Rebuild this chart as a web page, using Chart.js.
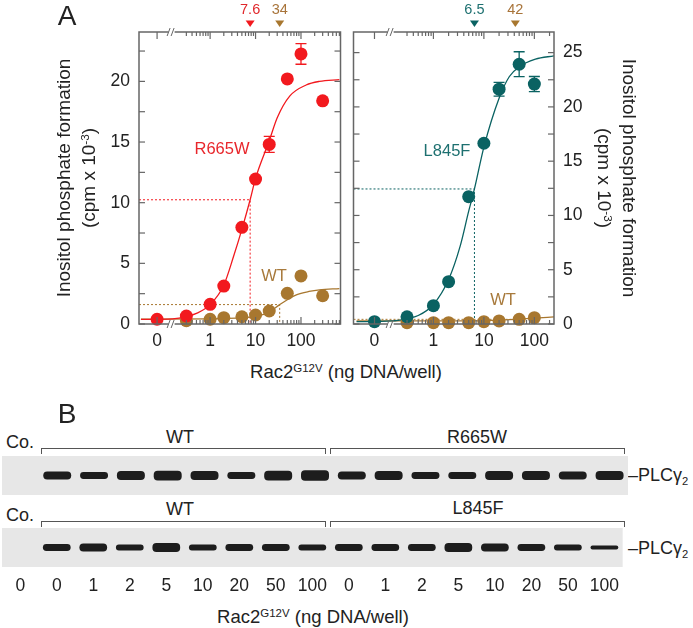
<!DOCTYPE html>
<html>
<head>
<meta charset="utf-8">
<script src="https://cdn.jsdelivr.net/npm/chart.js@4.4.1/dist/chart.umd.min.js"></script>
<style>
  body { margin: 0; background: #fff; }
  #fig { position: relative; width: 693px; height: 628px; overflow: hidden;
         font-family: "Liberation Sans", Arial, sans-serif; color: #222; }
  #fig canvas { position: absolute; }
  .t { position: absolute; white-space: nowrap; line-height: 1; transform: translate(-50%, -50%); }
  .l { position: absolute; white-space: nowrap; line-height: 1; transform: translateY(-50%); }
  .sup { font-size: 0.62em; position: relative; top: -0.55em; }
  .sub { font-size: 0.62em; position: relative; top: 0.35em; }
  .ytitle { position: absolute; width: 320px; height: 50px; text-align: center; font-size: 19px;
            line-height: 25px; white-space: nowrap; }
  .bracket { position: absolute; height: 5px; border: 1px solid #555; border-bottom: none; }
</style>
</head>
<body>
<div id="fig">
  <canvas id="ipLeft" width="347" height="360" style="left:0;top:0"></canvas>
  <canvas id="ipRight" width="346" height="360" style="left:347px;top:0"></canvas>
  <canvas id="blotTop" width="626" height="39" style="left:2px;top:456px"></canvas>
  <canvas id="blotBottom" width="626" height="72" style="left:2px;top:528px"></canvas>

  <div class="t" style="left:67px;top:16px;font-size:28px">A</div>
  <div class="ytitle" style="left:-84px;top:153px;transform:rotate(-90deg)">Inositol phosphate formation<br>(cpm x 10<span class="sup">-3</span>)</div>
  <div class="ytitle" style="left:457px;top:153px;transform:rotate(90deg)">Inositol phosphate formation<br>(cpm x 10<span class="sup">-3</span>)</div>
  <div class="t" style="left:222px;top:148px;font-size:16.5px;color:#e8262b">R665W</div>
  <div class="t" style="left:274px;top:275px;font-size:16.5px;color:#a87a3c">WT</div>
  <div class="t" style="left:447px;top:150px;font-size:16.5px;color:#1d7070">L845F</div>
  <div class="t" style="left:503px;top:299px;font-size:16.5px;color:#a87a3c">WT</div>
  <div class="t" style="left:346px;top:372px;font-size:18.5px">Rac2<span class="sup">G12V</span> (ng DNA/well)</div>

  <div class="t" style="left:67px;top:414px;font-size:28px">B</div>
  <div class="l" style="left:6px;top:442px;font-size:18px">Co.</div>
  <div class="t" style="left:180px;top:437px;font-size:18px">WT</div>
  <div class="t" style="left:477px;top:437px;font-size:18px">R665W</div>
  <div class="bracket" style="left:41px;top:448px;width:283px"></div>
  <div class="bracket" style="left:330px;top:448px;width:293px"></div>
  <div class="l" style="left:628px;top:475px;font-size:18px">–PLCγ<span class="sub">2</span></div>
  <div class="l" style="left:6px;top:515px;font-size:18px">Co.</div>
  <div class="t" style="left:180px;top:509px;font-size:18px">WT</div>
  <div class="t" style="left:478px;top:508px;font-size:18px">L845F</div>
  <div class="bracket" style="left:41px;top:521px;width:283px"></div>
  <div class="bracket" style="left:330px;top:521px;width:293px"></div>
  <div class="l" style="left:628px;top:548px;font-size:18px">–PLCγ<span class="sub">2</span></div>
  <div class="t" style="left:313px;top:617px;font-size:18.5px">Rac2<span class="sup">G12V</span> (ng DNA/well)</div>
</div>

<script>
// dose 0 is drawn left of the axis break on the log scale
const ZERO_AT = 0.068;
const BREAK_AT = 0.142;
const doseTicks = [0, 1, 10, 100];

// left panel: R665W and WT
const r665wDose = [0, 0.3, 1, 2, 5, 10, 20, 50, 100, 300];
const r665wIP = [0.39, 0.66, 1.62, 3.13, 7.97, 11.95, 14.8, 20.2, 22.26, 18.4];
const r665wSEM = [0, 0, 0, 0, 0, 0, 0.66, 0, 0.85, 0];
const wtDoseA = [0.3, 1, 2, 5, 10, 20, 50, 100, 300];
const wtIPA = [0.27, 0.39, 0.52, 0.6, 0.74, 1.07, 2.53, 3.96, 2.33];
const r665wFitDose = [0.03, 0.15, 0.3, 0.5, 1, 2, 3.3, 5, 7.6, 10, 20, 30, 57, 130, 255, 700];
const r665wFitIP = [0.38, 0.42, 0.6, 0.87, 1.6, 3.2, 5.6, 7.8, 10.24, 12.0, 15.1, 17.0, 18.8, 19.7, 20.0, 20.15];
const wtFitDoseA = [0.03, 1, 5, 10, 19, 34, 50, 79, 150, 255, 700];
const wtFitIPA = [0.4, 0.42, 0.5, 0.62, 0.95, 1.6, 2.0, 2.4, 2.68, 2.82, 2.92];
const ec50A = [7.6, 34];
const halfA = [10.24, 1.6];

// right panel: L845F and WT
const l845fDose = [0, 0.3, 1, 2, 5, 10, 20, 50, 100];
const l845fIP = [0.21, 0.67, 1.69, 3.9, 11.73, 16.65, 21.63, 23.93, 22.1];
const l845fSEM = [0, 0, 0, 0, 0, 0, 0.63, 1.15, 0.7];
const wtDoseB = [0.3, 1, 2, 5, 10, 20, 50, 100];
const wtIPB = [0.12, 0.12, 0.12, 0.12, 0.21, 0.28, 0.43, 0.58];
const l845fFitDose = [0.03, 0.15, 0.3, 0.5, 1, 2, 3.4, 5, 6.5, 10, 20, 32, 50, 105, 245];
const l845fFitIP = [0.22, 0.28, 0.5, 0.78, 1.8, 4.1, 7.2, 10.4, 12.44, 16.3, 20.8, 22.8, 23.7, 24.4, 24.7];
const wtFitDoseB = [0.03, 1, 10, 42, 100, 245];
const wtFitIPB = [0.28, 0.28, 0.32, 0.43, 0.55, 0.65];
const ec50B = [6.5, 42];
const halfB = [12.44, 0.43];

// panel B: lanes and band strength
const laneDoses = ["0", "0", "1", "2", "5", "10", "20", "50", "100", "0", "1", "2", "5", "10", "20", "50", "100"];
const bandsTop = [null, 8, 7, 9, 10, 9, 7, 10, 11, 8, 9, 7, 7, 9, 9, 8, 9];
const bandsBottom = [null, 7, 8, 6, 9, 6, 7, 7, 6, 7, 7, 7, 9, 8, 7, 6, 4];

const RED = "#f2191e";
const BROWN = "#a8772f";
const TEAL = "#0a6262";
const PT = 6.5;

Chart.defaults.font.family = '"Liberation Sans", Arial, sans-serif';
Chart.defaults.color = "#222";

const pos = (d) => (d === 0 ? ZERO_AT : d);
const pts = (xs, ys) => xs.map((x, i) => ({ x: pos(x), y: ys[i] }));

const dots = (dose, ip, color, order, sem) => ({
  data: pts(dose, ip),
  sem,
  backgroundColor: color,
  borderWidth: 0,
  pointRadius: PT,
  pointHoverRadius: PT,
  showLine: false,
  clip: false,
  order,
});

const curve = (dose, ip, color) => ({
  data: pts(dose, ip),
  borderColor: color,
  borderWidth: 1.3,
  pointRadius: 0,
  showLine: true,
  cubicInterpolationMode: "monotone",
  order: 5,
});

const guide = (ec, half, xMin, color) => ({
  data: [{ x: xMin, y: half }, { x: ec, y: half }, { x: ec, y: 0 }],
  borderColor: color,
  borderWidth: 1,
  borderDash: [2, 2],
  pointRadius: 0,
  showLine: true,
  order: 6,
});

const framePlugin = {
  id: "frame",
  beforeDatasetsDraw(chart) {
    // error bars sit behind the dots
    const { ctx, scales: { x, y } } = chart;
    chart.data.datasets.forEach((ds) => {
      if (!ds.sem) return;
      ctx.save();
      ctx.strokeStyle = ds.backgroundColor;
      ctx.lineWidth = 1.3;
      ds.data.forEach((p, i) => {
        if (!ds.sem[i]) return;
        const px = x.getPixelForValue(p.x);
        const hi = y.getPixelForValue(p.y + ds.sem[i]);
        const lo = y.getPixelForValue(p.y - ds.sem[i]);
        ctx.beginPath();
        ctx.moveTo(px, hi); ctx.lineTo(px, lo);
        ctx.moveTo(px - 5.5, hi); ctx.lineTo(px + 5.5, hi);
        ctx.moveTo(px - 5.5, lo); ctx.lineTo(px + 5.5, lo);
        ctx.stroke();
      });
      ctx.restore();
    });
  },
  afterDraw(chart, args, opts) {
    const { ctx, chartArea: { left, right, top, bottom }, scales: { x, y } } = chart;
    const seg = (x0, y0, x1, y1) => {
      ctx.beginPath(); ctx.moveTo(x0, y0); ctx.lineTo(x1, y1); ctx.stroke();
    };
    ctx.save();
    ctx.strokeStyle = "#666";
    ctx.lineWidth = 1.2;
    for (let v = 0; v <= y.max; v += 2.5) {
      const py = y.getPixelForValue(v);
      seg(left, py, left + 6, py);
      seg(right - 6, py, right, py);
    }
    doseTicks.forEach((d) => {
      const px = x.getPixelForValue(pos(d));
      seg(px, bottom, px, bottom - 7);
      seg(px, top, px, top + 7);
    });
    [0.1, 1, 10, 100].forEach((dec) => {
      for (let k = 2; k <= 9; k++) {
        const v = k * dec;
        if (v < 0.3 || v > x.max) continue;
        const px = x.getPixelForValue(v);
        seg(px, bottom, px, bottom - 4);
        seg(px, top, px, top + 4);
      }
    });
    ctx.lineWidth = 1.5;
    ctx.strokeRect(left, top, right - left, bottom - top);

    // axis break marks
    const bx = x.getPixelForValue(BREAK_AT);
    ctx.lineWidth = 1;
    [top, bottom].forEach((ay) => {
      ctx.fillStyle = "#fff";
      ctx.fillRect(bx - 3, ay - 2, 6, 4);
      seg(bx - 4.5, ay + 4, bx - 1.5, ay - 4);
      seg(bx - 0.5, ay + 4, bx + 2.5, ay - 4);
    });

    // EC50 arrows above the frame
    ctx.font = '14.5px "Liberation Sans", Arial, sans-serif';
    ctx.textAlign = "center";
    ctx.textBaseline = "middle";
    opts.ec50.forEach((v, i) => {
      const px = x.getPixelForValue(v);
      ctx.fillStyle = opts.colors[i];
      ctx.beginPath();
      ctx.moveTo(px - 4.5, top - 11.5);
      ctx.lineTo(px + 4.5, top - 11.5);
      ctx.lineTo(px, top - 5);
      ctx.closePath();
      ctx.fill();
      ctx.fillStyle = opts.textColors[i];
      ctx.fillText(String(v), px, top - 22);
    });
    ctx.restore();
  },
};

function ipPanel(id, o) {
  return new Chart(document.getElementById(id), {
    type: "scatter",
    data: { datasets: o.datasets },
    options: {
      responsive: false,
      animation: false,
      layout: { padding: o.padding },
      plugins: {
        legend: { display: false },
        tooltip: { enabled: false },
        frame: { ec50: o.ec50, colors: o.ec50Colors, textColors: o.ec50Text },
      },
      scales: {
        x: {
          type: "logarithmic",
          min: o.xMin,
          max: o.xMax,
          grid: { display: false, drawTicks: false },
          border: { display: false },
          afterBuildTicks: (s) => { s.ticks = doseTicks.map((d) => ({ value: pos(d) })); },
          afterFit: (s) => { s.height = 36; },
          ticks: {
            autoSkip: false, maxRotation: 0, padding: 7, font: { size: 17.5 },
            callback: (v, i) => String(doseTicks[i]),
          },
        },
        y: {
          position: o.yPos,
          min: 0,
          max: o.yMax,
          grid: { display: false, drawTicks: false },
          border: { display: false },
          afterFit: (s) => { s.width = 139; },
          ticks: { stepSize: 5, includeBounds: false, padding: 9, font: { size: 17.5 } },
        },
      },
    },
    plugins: [framePlugin],
  });
}

const xMinA = 0.0272, xMaxA = 741;
ipPanel("ipLeft", {
  padding: { top: 32, right: 4, left: 0, bottom: 0 },
  xMin: xMinA, xMax: xMaxA, yMax: 24.07, yPos: "left",
  ec50: ec50A, ec50Colors: [RED, BROWN], ec50Text: ["#e0282c", "#a8743a"],
  datasets: [
    dots(r665wDose, r665wIP, RED, 1, r665wSEM),
    dots(wtDoseA, wtIPA, BROWN, 2),
    curve(r665wFitDose, r665wFitIP, RED),
    curve(wtFitDoseA, wtFitIPA, BROWN),
    guide(ec50A[0], halfA[0], xMinA, RED),
    guide(ec50A[1], halfA[1], xMinA, BROWN),
  ],
});

const xMinB = 0.0261, xMaxB = 245;
ipPanel("ipRight", {
  padding: { top: 32, right: 0, left: 2, bottom: 0 },
  xMin: xMinB, xMax: xMaxB, yMax: 26.9, yPos: "right",
  ec50: ec50B, ec50Colors: [TEAL, BROWN], ec50Text: ["#1d7070", "#a8743a"],
  datasets: [
    dots(l845fDose, l845fIP, TEAL, 1, l845fSEM),
    dots(wtDoseB, wtIPB, BROWN, 2),
    curve(l845fFitDose, l845fFitIP, TEAL),
    curve(wtFitDoseB, wtFitIPB, BROWN),
    guide(ec50B[0], halfB[0], xMinB, TEAL),
    guide(ec50B[1], halfB[1], xMinB, BROWN),
  ],
});

const stripPlugin = {
  id: "strip",
  beforeDraw(chart) {
    const { ctx, chartArea: a } = chart;
    ctx.save();
    ctx.fillStyle = "#e7e7e7";
    ctx.fillRect(a.left, a.top, a.right - a.left, a.bottom - a.top);
    ctx.restore();
  },
};

function blot(id, bands, withLabels) {
  return new Chart(document.getElementById(id), {
    type: "bar",
    data: {
      labels: laneDoses,
      datasets: [{
        data: bands.map((b) => (b ? [-b / 2, b / 2] : null)),
        backgroundColor: "#1d1d1d",
        borderRadius: 4,
        borderSkipped: false,
        barPercentage: 0.76,
        categoryPercentage: 1,
      }],
    },
    options: {
      responsive: false,
      animation: false,
      layout: { padding: 0 },
      plugins: { legend: { display: false }, tooltip: { enabled: false } },
      scales: {
        x: {
          display: withLabels,
          grid: { display: false, drawTicks: false },
          border: { display: false },
          afterFit: (s) => { s.height = withLabels ? 33 : 0; },
          ticks: { autoSkip: false, maxRotation: 0, padding: 9, font: { size: 17.5 } },
        },
        y: { display: false, min: -20, max: 20 },
      },
    },
    plugins: [stripPlugin],
  });
}

blot("blotTop", bandsTop, false);
blot("blotBottom", bandsBottom, true);
</script>
</body>
</html>
